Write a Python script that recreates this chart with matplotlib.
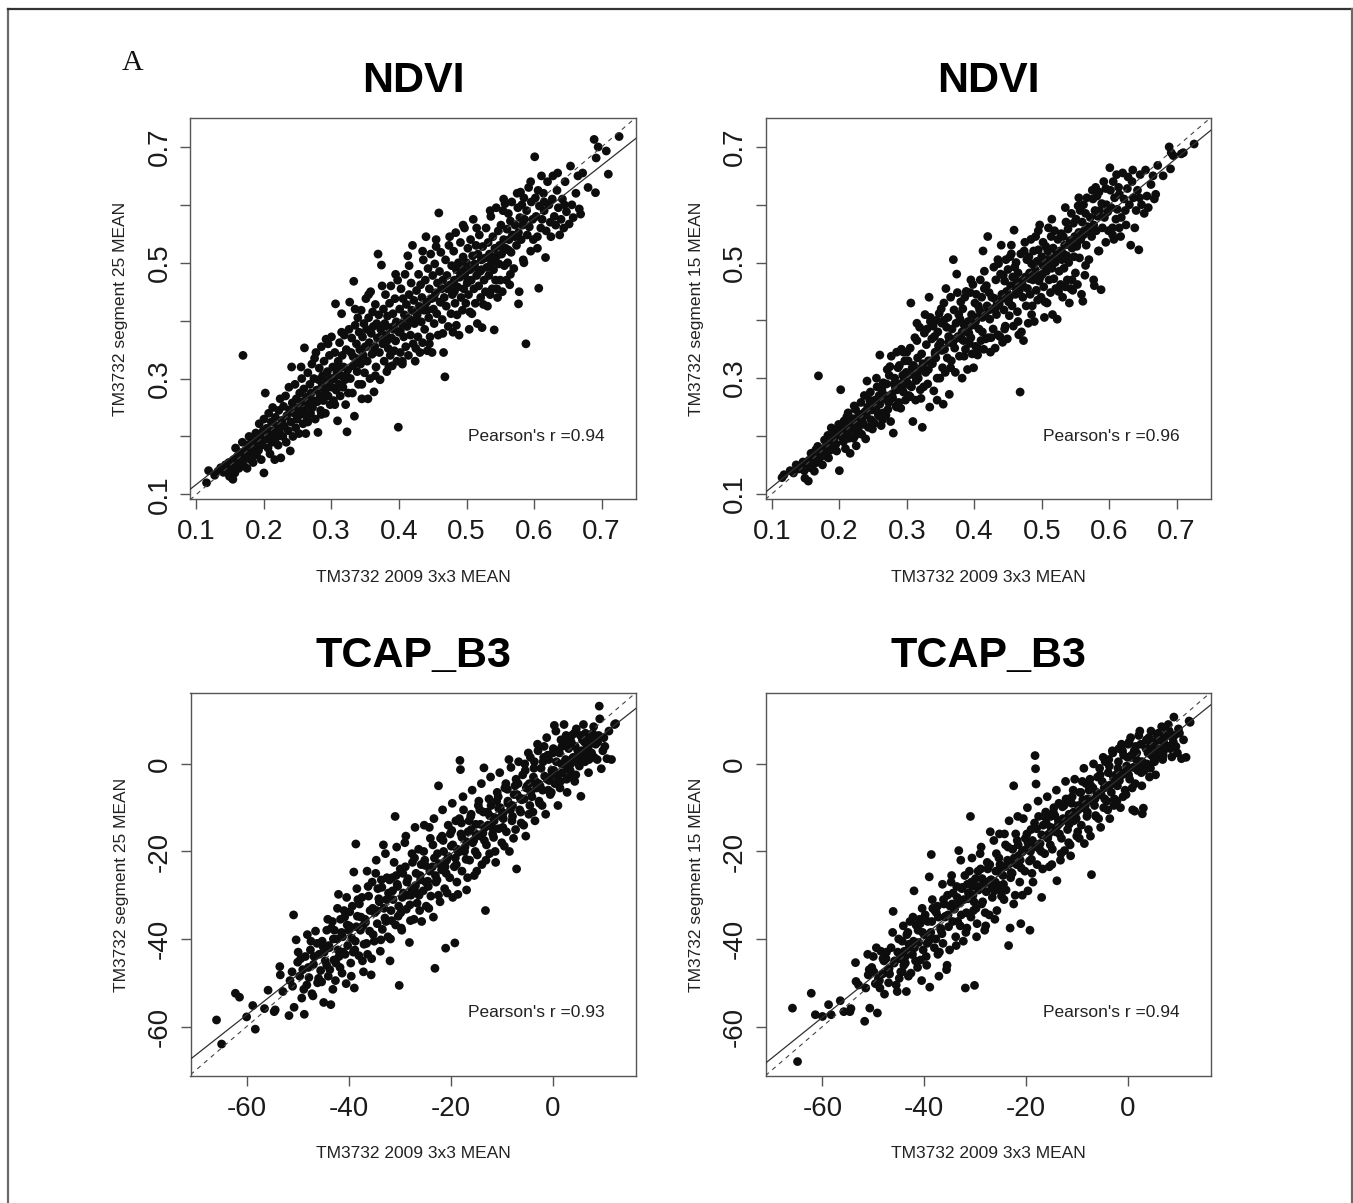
import matplotlib
matplotlib.use("Agg")
import matplotlib.pyplot as plt
from matplotlib.lines import Line2D
import numpy as np

plt.rcParams['font.family'] = ['Liberation Sans', 'DejaVu Sans']

# ---------------- data ----------------
# NDVI: x = TM3732 2009 3x3 MEAN (shared by both NDVI panels)
ndvi_x = [
    0.115, 0.118, 0.127, 0.132, 0.136, 0.140, 0.143, 0.146, 0.148, 0.149,
    0.152, 0.154, 0.155, 0.157, 0.158, 0.160, 0.161, 0.163, 0.165, 0.166, 0.168, 0.169, 0.170, 0.172, 0.173, 0.175,
    0.177, 0.178, 0.180, 0.181, 0.183, 0.184, 0.186, 0.188, 0.189, 0.190, 0.192, 0.193, 0.195, 0.196, 0.197, 0.199, 0.200, 0.200,
    0.202, 0.203, 0.204, 0.206, 0.207, 0.208, 0.209, 0.211, 0.212, 0.213, 0.214, 0.216, 0.217, 0.218, 0.220, 0.221, 0.222, 0.223, 0.224, 0.225,
    0.227, 0.228, 0.229, 0.230, 0.232, 0.233, 0.234, 0.236, 0.237, 0.238, 0.239, 0.240, 0.241, 0.242, 0.243, 0.245, 0.246, 0.247, 0.248, 0.249,
    0.251, 0.252, 0.253, 0.254, 0.256, 0.257, 0.258, 0.259, 0.260, 0.260, 0.262, 0.263, 0.264, 0.265, 0.266, 0.268, 0.269, 0.270, 0.271, 0.272, 0.273, 0.274,
    0.276, 0.277, 0.278, 0.279, 0.280, 0.281, 0.282, 0.283, 0.284, 0.285, 0.286, 0.287, 0.288, 0.289, 0.290, 0.291, 0.292, 0.293, 0.294, 0.295, 0.296, 0.297, 0.298, 0.299,
    0.300, 0.301, 0.302, 0.303, 0.304, 0.305, 0.306, 0.307, 0.308, 0.309, 0.310, 0.311, 0.312, 0.313, 0.314, 0.315, 0.316, 0.317, 0.318, 0.319, 0.320, 0.321, 0.322, 0.323, 0.324,
    0.326, 0.327, 0.328, 0.329, 0.330, 0.331, 0.332, 0.333, 0.334, 0.335, 0.336, 0.337, 0.338, 0.339, 0.340, 0.341, 0.342, 0.343, 0.344, 0.345, 0.346, 0.347, 0.348, 0.349,
    0.350, 0.351, 0.352, 0.353, 0.354, 0.355, 0.356, 0.357, 0.358, 0.359, 0.360, 0.361, 0.362, 0.363, 0.364, 0.365, 0.366, 0.367, 0.368, 0.369, 0.370, 0.371, 0.372, 0.373, 0.374,
    0.376, 0.377, 0.378, 0.379, 0.380, 0.381, 0.382, 0.383, 0.384, 0.385, 0.386, 0.387, 0.388, 0.389, 0.390, 0.391, 0.392, 0.393, 0.394, 0.395, 0.396, 0.397, 0.398, 0.399, 0.400,
    0.401, 0.402, 0.403, 0.404, 0.405, 0.406, 0.407, 0.408, 0.409, 0.410, 0.411, 0.412, 0.413, 0.414, 0.415, 0.416, 0.417, 0.418, 0.419, 0.420, 0.421, 0.422, 0.423, 0.424,
    0.426, 0.427, 0.428, 0.429, 0.430, 0.431, 0.432, 0.433, 0.434, 0.435, 0.436, 0.437, 0.438, 0.439, 0.440, 0.441, 0.442, 0.443, 0.444, 0.445, 0.446, 0.447, 0.448, 0.449,
    0.450, 0.451, 0.452, 0.453, 0.454, 0.455, 0.456, 0.457, 0.458, 0.459, 0.460, 0.461, 0.462, 0.463, 0.464, 0.465, 0.466, 0.467, 0.468, 0.469, 0.470, 0.471, 0.472, 0.473, 0.474,
    0.476, 0.477, 0.478, 0.479, 0.480, 0.481, 0.482, 0.483, 0.484, 0.485, 0.486, 0.487, 0.488, 0.489, 0.490, 0.491, 0.492, 0.493, 0.494, 0.495, 0.496, 0.497, 0.498, 0.499,
    0.500, 0.501, 0.502, 0.503, 0.504, 0.505, 0.506, 0.507, 0.508, 0.509, 0.510, 0.511, 0.512, 0.513, 0.514, 0.515, 0.516, 0.517, 0.518, 0.519, 0.520, 0.521, 0.522, 0.523, 0.524,
    0.526, 0.527, 0.528, 0.529, 0.530, 0.531, 0.532, 0.533, 0.534, 0.535, 0.536, 0.537, 0.538, 0.539, 0.540, 0.541, 0.542, 0.543, 0.544, 0.545, 0.546, 0.547, 0.548, 0.549,
    0.550, 0.551, 0.552, 0.553, 0.554, 0.555, 0.556, 0.557, 0.558, 0.559, 0.560, 0.561, 0.562, 0.563, 0.564, 0.565, 0.566, 0.567, 0.568, 0.570, 0.572, 0.574,
    0.576, 0.577, 0.578, 0.579, 0.580, 0.581, 0.582, 0.583, 0.584, 0.585, 0.586, 0.588, 0.589, 0.590, 0.592, 0.593, 0.595, 0.596, 0.598, 0.599, 0.577,
    0.601, 0.602, 0.603, 0.605, 0.606, 0.607, 0.608, 0.610, 0.611, 0.612, 0.614, 0.615, 0.617, 0.618, 0.620, 0.622, 0.624,
    0.627, 0.628, 0.630, 0.632, 0.634, 0.636, 0.638, 0.640, 0.642, 0.644, 0.646, 0.648,
    0.652, 0.654, 0.656, 0.658, 0.662, 0.665, 0.667, 0.669, 0.672, 0.680, 0.689, 0.691, 0.692, 0.695, 0.707, 0.710, 0.726,
    0.255, 0.265, 0.275, 0.285, 0.295, 0.305, 0.315, 0.325, 0.335, 0.345, 0.355, 0.365, 0.375, 0.385, 0.395, 0.405, 0.415, 0.425, 0.435, 0.445,
    0.455, 0.465, 0.475, 0.485, 0.495, 0.505, 0.515, 0.525, 0.535, 0.545, 0.555, 0.565, 0.575, 0.585, 0.595, 0.605, 0.615, 0.625, 0.635, 0.645,
    0.302, 0.312, 0.322, 0.332, 0.342, 0.352, 0.362, 0.372, 0.382, 0.392, 0.402, 0.412, 0.422, 0.432,
    0.442, 0.452, 0.462, 0.472, 0.482, 0.492, 0.502, 0.512, 0.522, 0.532, 0.542, 0.552, 0.562, 0.572,
]
# NDVI: TM3732 segment 25 MEAN
ndvi_seg25 = [
    0.120, 0.141, 0.133, 0.140, 0.146, 0.138, 0.151, 0.143, 0.155, 0.131,
    0.147, 0.126, 0.160, 0.137, 0.180, 0.152, 0.166, 0.145, 0.172, 0.158, 0.190, 0.340, 0.150, 0.175, 0.163, 0.145,
    0.186, 0.200, 0.160, 0.172, 0.194, 0.155, 0.180, 0.206, 0.168, 0.190, 0.176, 0.222, 0.198, 0.160, 0.185, 0.210, 0.137, 0.230,
    0.275, 0.195, 0.214, 0.180, 0.240, 0.203, 0.170, 0.225, 0.190, 0.250, 0.210, 0.160, 0.233, 0.198, 0.218, 0.185, 0.245, 0.208, 0.265, 0.163,
    0.228, 0.200, 0.252, 0.218, 0.270, 0.190, 0.236, 0.210, 0.285, 0.246, 0.175, 0.225, 0.320, 0.258, 0.200, 0.240, 0.290, 0.215, 0.265, 0.230,
    0.250, 0.205, 0.275, 0.238, 0.300, 0.260, 0.222, 0.282, 0.353, 0.245, 0.205, 0.268, 0.232, 0.310, 0.255, 0.290, 0.240, 0.275, 0.325, 0.250, 0.262, 0.300,
    0.230, 0.345, 0.280, 0.260, 0.207, 0.298, 0.318, 0.270, 0.245, 0.355, 0.288, 0.305, 0.262, 0.330, 0.278, 0.240, 0.368, 0.295, 0.312, 0.270, 0.285, 0.340, 0.255, 0.300,
    0.372, 0.285, 0.320, 0.262, 0.300, 0.345, 0.429, 0.280, 0.310, 0.227, 0.330, 0.290, 0.362, 0.270, 0.305, 0.412, 0.340, 0.285, 0.320, 0.375, 0.298, 0.255, 0.350, 0.208, 0.315,
    0.385, 0.432, 0.300, 0.345, 0.370, 0.275, 0.322, 0.468, 0.235, 0.392, 0.335, 0.360, 0.312, 0.405, 0.290, 0.380, 0.350, 0.325, 0.418, 0.265, 0.372, 0.340, 0.395, 0.310,
    0.355, 0.438, 0.385, 0.330, 0.265, 0.405, 0.362, 0.300, 0.450, 0.378, 0.342, 0.415, 0.390, 0.277, 0.355, 0.428, 0.320, 0.395, 0.370, 0.515, 0.410, 0.345, 0.298, 0.385, 0.496,
    0.360, 0.420, 0.330, 0.395, 0.445, 0.375, 0.312, 0.408, 0.352, 0.388, 0.430, 0.340, 0.460, 0.370, 0.322, 0.412, 0.385, 0.348, 0.438, 0.365, 0.398, 0.330, 0.470, 0.216, 0.380,
    0.420, 0.345, 0.455, 0.395, 0.325, 0.438, 0.372, 0.410, 0.480, 0.355, 0.428, 0.390, 0.512, 0.340, 0.445, 0.402, 0.375, 0.465, 0.418, 0.530, 0.360, 0.435, 0.395, 0.330,
    0.452, 0.410, 0.372, 0.480, 0.425, 0.345, 0.462, 0.398, 0.440, 0.362, 0.505, 0.418, 0.385, 0.470, 0.545, 0.432, 0.348, 0.490, 0.405, 0.455, 0.372, 0.515, 0.438, 0.345,
    0.478, 0.420, 0.395, 0.498, 0.448, 0.540, 0.412, 0.465, 0.375, 0.586, 0.485, 0.432, 0.518, 0.455, 0.402, 0.470, 0.345, 0.440, 0.303, 0.505, 0.425, 0.478, 0.455, 0.390, 0.530,
    0.462, 0.412, 0.495, 0.445, 0.380, 0.520, 0.470, 0.430, 0.552, 0.488, 0.410, 0.458, 0.500, 0.375, 0.475, 0.535, 0.440, 0.492, 0.418, 0.510, 0.455, 0.560, 0.482, 0.430,
    0.500, 0.465, 0.525, 0.445, 0.385, 0.488, 0.540, 0.470, 0.412, 0.512, 0.575, 0.455, 0.498, 0.430, 0.530, 0.478, 0.395, 0.515, 0.460, 0.548, 0.485, 0.440, 0.505, 0.388, 0.528,
    0.470, 0.508, 0.450, 0.560, 0.492, 0.425, 0.535, 0.478, 0.515, 0.445, 0.580, 0.500, 0.455, 0.545, 0.488, 0.384, 0.525, 0.470, 0.595, 0.512, 0.440, 0.555, 0.498, 0.530,
    0.470, 0.565, 0.515, 0.450, 0.590, 0.540, 0.495, 0.602, 0.525, 0.470, 0.558, 0.500, 0.585, 0.540, 0.462, 0.572, 0.518, 0.605, 0.548, 0.490, 0.565, 0.530,
    0.595, 0.552, 0.450, 0.578, 0.622, 0.540, 0.600, 0.565, 0.505, 0.612, 0.575, 0.360, 0.590, 0.548, 0.630, 0.562, 0.520, 0.605, 0.575, 0.540, 0.429,
    0.683, 0.612, 0.580, 0.545, 0.625, 0.456, 0.598, 0.560, 0.650, 0.575, 0.620, 0.590, 0.509, 0.555, 0.640, 0.600, 0.570,
    0.610, 0.650, 0.580, 0.565, 0.625, 0.595, 0.548, 0.575, 0.610, 0.560, 0.640, 0.588,
    0.567, 0.667, 0.600, 0.578, 0.620, 0.650, 0.593, 0.584, 0.655, 0.630, 0.713, 0.621, 0.681, 0.700, 0.693, 0.653, 0.718,
    0.320, 0.225, 0.335, 0.238, 0.360, 0.255, 0.380, 0.275, 0.420, 0.290, 0.445, 0.305, 0.460, 0.320, 0.480, 0.330, 0.495, 0.352, 0.520, 0.360,
    0.528, 0.378, 0.545, 0.392, 0.565, 0.415, 0.560, 0.428, 0.590, 0.455, 0.610, 0.480, 0.620, 0.500, 0.640, 0.525, 0.605, 0.545, 0.655, 0.600,
    0.300, 0.318, 0.305, 0.338, 0.328, 0.355, 0.345, 0.372, 0.365, 0.390, 0.382, 0.405, 0.400, 0.420,
    0.418, 0.440, 0.432, 0.458, 0.450, 0.478, 0.470, 0.492, 0.488, 0.510, 0.505, 0.528, 0.522, 0.545,
]
# NDVI: TM3732 segment 15 MEAN
ndvi_seg15 = [
    0.128, 0.133, 0.140, 0.136, 0.150, 0.143, 0.146, 0.155, 0.140, 0.127,
    0.152, 0.122, 0.158, 0.145, 0.170, 0.149, 0.163, 0.139, 0.176, 0.154, 0.182, 0.304, 0.160, 0.168, 0.171, 0.150,
    0.178, 0.193, 0.165, 0.184, 0.201, 0.162, 0.175, 0.214, 0.190, 0.183, 0.196, 0.208, 0.186, 0.174, 0.202, 0.220, 0.140, 0.212,
    0.280, 0.205, 0.198, 0.190, 0.226, 0.215, 0.178, 0.233, 0.207, 0.240, 0.196, 0.170, 0.220, 0.212, 0.230, 0.196, 0.252, 0.200, 0.246, 0.183,
    0.218, 0.210, 0.238, 0.232, 0.258, 0.203, 0.225, 0.220, 0.270, 0.242, 0.195, 0.236, 0.295, 0.250, 0.215, 0.262, 0.276, 0.228, 0.245, 0.212,
    0.260, 0.222, 0.262, 0.248, 0.285, 0.240, 0.235, 0.270, 0.340, 0.255, 0.218, 0.280, 0.228, 0.292, 0.265, 0.270, 0.236, 0.290, 0.315, 0.246, 0.258, 0.305,
    0.225, 0.338, 0.272, 0.266, 0.205, 0.290, 0.300, 0.284, 0.252, 0.345, 0.280, 0.318, 0.258, 0.322, 0.290, 0.248, 0.350, 0.282, 0.305, 0.276, 0.298, 0.330, 0.262, 0.310,
    0.345, 0.292, 0.330, 0.270, 0.288, 0.352, 0.430, 0.285, 0.318, 0.225, 0.322, 0.305, 0.370, 0.262, 0.296, 0.395, 0.335, 0.300, 0.312, 0.388, 0.280, 0.265, 0.342, 0.215, 0.325,
    0.378, 0.410, 0.310, 0.358, 0.385, 0.290, 0.315, 0.440, 0.250, 0.398, 0.330, 0.368, 0.325, 0.390, 0.278, 0.372, 0.345, 0.335, 0.400, 0.262, 0.380, 0.356, 0.412, 0.300,
    0.362, 0.420, 0.395, 0.318, 0.255, 0.400, 0.350, 0.310, 0.455, 0.388, 0.335, 0.405, 0.372, 0.272, 0.368, 0.440, 0.330, 0.385, 0.360, 0.505, 0.418, 0.352, 0.310, 0.395, 0.480,
    0.372, 0.410, 0.338, 0.402, 0.432, 0.368, 0.300, 0.420, 0.365, 0.392, 0.440, 0.350, 0.450, 0.380, 0.315, 0.398, 0.378, 0.360, 0.448, 0.370, 0.410, 0.342, 0.462, 0.318, 0.392,
    0.430, 0.355, 0.445, 0.405, 0.340, 0.425, 0.385, 0.418, 0.470, 0.365, 0.440, 0.380, 0.520, 0.350, 0.455, 0.412, 0.368, 0.460, 0.425, 0.545, 0.370, 0.448, 0.402, 0.345,
    0.440, 0.420, 0.385, 0.492, 0.438, 0.352, 0.470, 0.410, 0.430, 0.375, 0.498, 0.428, 0.372, 0.480, 0.530, 0.445, 0.362, 0.478, 0.418, 0.468, 0.390, 0.505, 0.450, 0.368,
    0.488, 0.432, 0.408, 0.510, 0.460, 0.530, 0.425, 0.475, 0.390, 0.556, 0.492, 0.445, 0.500, 0.468, 0.415, 0.482, 0.375, 0.452, 0.276, 0.515, 0.380, 0.468, 0.440, 0.365, 0.520,
    0.475, 0.425, 0.505, 0.455, 0.395, 0.510, 0.482, 0.445, 0.540, 0.498, 0.425, 0.470, 0.520, 0.398, 0.488, 0.545, 0.452, 0.502, 0.435, 0.522, 0.468, 0.565, 0.475, 0.440,
    0.510, 0.480, 0.535, 0.458, 0.405, 0.498, 0.528, 0.485, 0.430, 0.520, 0.560, 0.470, 0.508, 0.448, 0.545, 0.490, 0.410, 0.525, 0.472, 0.555, 0.500, 0.455, 0.518, 0.402, 0.540,
    0.485, 0.520, 0.462, 0.550, 0.505, 0.440, 0.545, 0.490, 0.530, 0.458, 0.570, 0.512, 0.470, 0.558, 0.500, 0.430, 0.538, 0.455, 0.585, 0.525, 0.452, 0.568, 0.510, 0.545,
    0.482, 0.575, 0.528, 0.462, 0.598, 0.552, 0.508, 0.590, 0.540, 0.445, 0.570, 0.433, 0.600, 0.555, 0.478, 0.585, 0.530, 0.612, 0.562, 0.505, 0.578, 0.545,
    0.610, 0.565, 0.460, 0.590, 0.630, 0.555, 0.615, 0.580, 0.520, 0.622, 0.590, 0.453, 0.602, 0.560, 0.640, 0.578, 0.535, 0.600, 0.588, 0.555, 0.470,
    0.664, 0.625, 0.595, 0.560, 0.640, 0.540, 0.612, 0.575, 0.652, 0.592, 0.630, 0.560, 0.545, 0.578, 0.655, 0.610, 0.590,
    0.628, 0.648, 0.600, 0.530, 0.640, 0.612, 0.560, 0.590, 0.625, 0.522, 0.652, 0.600,
    0.585, 0.660, 0.615, 0.595, 0.635, 0.650, 0.610, 0.618, 0.668, 0.650, 0.700, 0.662, 0.690, 0.685, 0.688, 0.690, 0.705,
    0.300, 0.240, 0.320, 0.250, 0.345, 0.268, 0.365, 0.285, 0.405, 0.300, 0.430, 0.318, 0.448, 0.338, 0.470, 0.352, 0.485, 0.370, 0.505, 0.385,
    0.515, 0.398, 0.535, 0.410, 0.555, 0.432, 0.575, 0.450, 0.595, 0.470, 0.612, 0.495, 0.625, 0.520, 0.628, 0.548, 0.618, 0.565, 0.660, 0.612,
    0.305, 0.310, 0.318, 0.330, 0.342, 0.348, 0.362, 0.368, 0.380, 0.388, 0.398, 0.405, 0.418, 0.422,
    0.438, 0.440, 0.455, 0.460, 0.472, 0.478, 0.495, 0.498, 0.512, 0.515, 0.530, 0.532, 0.548, 0.552,
]

# TCAP_B3: x = TM3732 2009 3x3 MEAN (shared by both TCAP panels)
tcap_x = [
    -65.9, -64.9, -62.2, -61.4, -60.0, -58.8, -58.3, -56.5, -55.8, -54.6, -54.4,
    -53.5, -53.4, -52.9, -51.7, -51.5, -51.0, -50.8, -50.7, -50.3, -50.0, -49.6, -49.2, -49.0, -48.7, -48.5, -48.2, -47.8, -47.5, -47.2, -46.9, -46.5, -46.1, -45.8, -45.5, -45.2, -44.9, -44.6, -44.3, -44.0,
    -43.8, -43.5, -43.2, -42.9, -42.6, -42.3, -42.0, -41.7, -41.4, -41.1, -40.8, -40.5, -40.2, -39.9, -39.6, -39.3, -39.0, -38.9, -38.7, -38.6, -38.3, -38.0, -37.7, -37.4, -37.1, -36.8, -36.5, -36.2, -35.9, -35.6,
    -35.3, -35.0, -34.7, -34.4, -34.1, -33.8, -33.5, -33.2, -32.9, -32.6, -32.3, -32.0, -31.9, -31.7, -31.4, -31.1, -30.9, -30.8, -30.5, -30.2, -30.1, -29.9, -29.6, -29.3, -29.0, -28.7, -28.4, -28.1, -27.8, -27.5,
    -27.2, -26.9, -26.6, -26.3, -26.0, -25.7, -25.4, -25.1, -24.8, -24.5, -24.2, -23.9, -23.6, -23.4, -23.1, -22.9, -22.6, -22.4, -22.1, -21.8, -21.5, -21.2, -21.0, -20.8, -20.5, -20.2, -19.9, -19.6, -19.3, -19.2,
    -19.0, -18.8, -18.5, -18.2, -18.1, -18.0, -17.8, -17.5, -17.2, -16.9, -16.6, -16.3, -16.0, -15.7, -15.4, -15.1, -14.8, -14.5, -14.2, -13.9, -13.6, -13.5, -13.2, -13.0, -12.7, -12.4, -12.1, -11.8, -11.5, -11.2,
    -10.9, -10.6, -10.3, -10.0, -9.7, -9.4, -9.1, -8.8, -8.5, -8.2, -7.9, -7.6, -7.3, -7.1, -6.8, -6.5, -6.2, -5.9, -5.6, -5.3, -5.0, -4.7, -4.4, -4.1, -3.8, -3.5, -3.2, -2.9, -2.6, -2.3,
    -2.0, -1.7, -1.4, -1.1, -0.8, -0.5, -0.2, 0.1, 0.3, 0.4, 0.7, 1.0, 1.3, 1.4, 1.6, 1.9, 2.2, 2.5, 2.8, 2.9, 3.1, 3.4, 3.7, 4.0, 4.3, 4.6, 4.9, 5.2, 5.5, 5.8, 6.1, 6.4, 6.7, 7.0, 7.3, 7.6, 8.0, 8.4, 8.7, 9.1, 9.2, 9.5, 10.0, 10.6, 11.0, 12.1, 12.3,
    -44.8, -43.9, -43.0, -42.1, -41.2, -40.3, -39.4, -38.5, -37.6, -36.7, -35.8, -34.9, -34.0, -33.1, -32.2, -31.3, -30.4, -29.5, -28.6, -27.7, -26.8, -25.9, -25.0, -24.1, -23.2, -22.3, -21.4, -20.5, -19.6, -18.7, -17.8, -16.9, -16.0, -15.1, -14.2, -13.3, -12.4, -11.5, -10.6, -9.7, -8.8, -7.9, -7.0, -6.1, -5.2, -4.3, -3.4, -2.5, -1.6, -0.7, 0.2, 1.1, 2.0, 2.9, 3.8, 4.7, 5.6, 6.5,
    -44.3, -43.4, -42.5, -41.6, -40.7, -39.8, -38.8, -37.9, -37.0, -36.1, -35.2, -34.3, -33.4, -32.5, -31.6, -30.7, -29.8, -28.9, -28.0, -27.1, -26.2, -25.3, -24.4, -23.5, -22.7, -21.7, -20.9, -19.8, -18.9, -17.9, -17.0, -16.1, -15.2, -14.3, -13.4, -12.5, -11.6, -10.7, -9.8, -8.9, -8.0, -7.2, -6.3, -5.4, -4.5, -3.6, -2.7, -1.8, -0.9, 0.0, 0.9, 1.8, 2.7, 3.6, 4.5, 5.4, 6.3, 7.2, 8.1, 9.0, 10.2, -45.9, -46.8, -47.9, -48.8, -49.9, -51.1,
    -49.4, -48.1, -47.0, -46.2, -45.3, -44.1, -43.1, -42.2, -41.3, -40.4, -39.5, -38.4, -37.3, -36.4, -35.5, -34.6, -33.7, -32.8, -31.8, -30.6, -29.7, -28.8, -27.9, -27.0, -26.1, -25.2, -24.3, -23.3, -22.4, -21.6, -20.7, -19.7,
    -18.6, -17.6, -16.7, -15.8, -14.9, -14.0, -13.1, -12.2, -11.3, -10.4, -9.5, -8.6, -7.7, -6.7, -5.7, -4.8, -3.9, -3.0, -2.1, -1.2, -0.3, 0.6, 1.5, 2.4, 3.3, 4.2, 5.1, 6.0, 6.9, 7.8, 8.8, 11.5,
    -47.4, -45.0, -43.7, -42.8, -41.9, -40.9, -40.0, -39.1, -38.2, -37.2, -36.3, -35.4, -34.5, -33.6, -32.7, -31.5, -30.3, -29.4, -28.5, -27.6, -26.7, -25.8, -24.9, -24.0, -23.0, -22.0, -21.1, -20.1, -19.1, -18.3,
    -17.3, -16.4, -15.5, -14.6, -13.7, -12.8, -11.9, -11.0, -10.1, -9.2, -8.3, -7.4, -6.4, -5.5, -4.6, -3.7, -2.8, -1.9, -1.0, -0.1, 0.8, 1.7, 2.6, 3.5, 4.4, 5.3, 6.2, 7.1, 8.2, 9.8,
]
# TCAP_B3: TM3732 segment 25 MEAN
tcap_seg25 = [
    -58.5, -64.0, -52.4, -53.3, -57.8, -55.2, -60.6, -55.9, -51.7, -56.6, -56.2,
    -46.3, -48.2, -52.0, -57.5, -49.5, -50.8, -34.5, -55.6, -40.2, -45.3, -48.5, -53.5, -47.0, -57.2, -44.0, -50.5, -48.8, -42.5, -52.5, -45.8, -38.2, -50.0, -43.5, -47.2, -40.5, -54.5, -45.0, -38.0, -48.5,
    -42.0, -55.0, -36.0, -44.8, -49.5, -40.0, -29.8, -46.5, -38.5, -43.0, -35.0, -50.2, -41.5, -37.0, -45.5, -32.5, -24.7, -51.2, -40.5, -18.3, -34.8, -43.8, -38.0, -30.5, -47.5, -35.5, -41.0, -28.0, -38.2, -48.2,
    -33.0, -40.5, -25.0, -36.5, -30.8, -42.8, -28.2, -18.5, -35.2, -31.0, -39.5, -26.5, -45.0, -33.5, -29.0, -22.5, -12.0, -36.8, -27.5, -32.5, -50.6, -24.0, -38.0, -29.5, -18.0, -33.2, -26.2, -40.8, -30.0, -22.5,
    -35.5, -27.8, -31.8, -19.5, -25.5, -36.0, -29.0, -22.0, -32.5, -26.8, -14.5, -30.2, -23.5, -35.0, -46.7, -27.0, -20.5, -5.0, -31.5, -24.2, -17.5, -28.5, -42.1, -22.0, -14.0, -26.0, -18.8, -30.5, -23.5, -40.9,
    -13.0, -27.0, -20.2, 0.8, -1.3, -16.0, -24.5, -10.5, -19.0, -28.8, -15.5, -22.0, -11.5, -18.0, -25.5, -13.8, -20.8, -8.5, -16.5, -23.0, -11.0, -0.9, -33.5, -18.5, -14.0, -20.5, -9.5, -16.0, -12.2, -22.5,
    -6.5, -14.8, -10.0, -18.0, -12.5, -5.5, -15.5, -9.0, -20.0, -0.8, -12.0, -7.0, -15.0, -24.0, -4.5, -10.5, -13.5, -2.5, -8.0, -16.5, -5.0, -11.5, 1.5, -7.5, -3.0, -13.0, -5.5, 3.0, -9.0, -1.0,
    -6.0, 4.0, -11.5, -3.5, 1.0, -7.0, -1.5, 3.5, 8.8, -4.5, 0.5, -9.5, 2.5, -5.5, 5.5, -2.0, 9.0, 1.0, -6.5, 4.0, 3.5, -1.5, 6.5, 1.5, -4.0, 8.0, 3.0, -0.5, -7.4, 5.5, 2.0, 7.0, 4.0, -2.0, 6.0, 2.5, 8.5, 4.5, 1.0, 13.2, 10.3, -1.1, 6.0, 1.2, 7.5, 9.0, 9.2,
    -43.0, -41.5, -40.0, -42.5, -39.5, -36.8, -39.8, -37.2, -35.0, -36.2, -33.5, -34.0, -31.5, -33.0, -29.5, -31.0, -28.0, -30.5, -27.0, -28.5, -25.0, -26.5, -23.2, -24.5, -21.5, -22.8, -20.0, -21.2, -18.5, -19.5, -16.8, -17.8, -15.0, -16.0, -13.8, -14.5, -11.8, -13.0, -10.2, -11.2, -8.5, -9.5, -7.0, -8.2, -5.5, -6.5, -4.0, -5.0, -2.8, -3.8, -1.5, -2.5, 0.0, -1.0, 1.2, 0.5, 3.0, 2.0,
    -46.0, -37.5, -45.5, -35.5, -43.5, -33.8, -42.5, -32.0, -41.2, -30.2, -39.0, -28.5, -37.8, -26.0, -35.8, -25.5, -34.0, -23.5, -32.2, -21.5, -30.0, -20.0, -28.0, -18.5, -26.5, -16.5, -25.0, -15.2, -23.0, -13.5, -21.8, -12.0, -20.0, -10.5, -17.5, -8.0, -16.8, -7.5, -14.5, -5.8, -13.0, -3.5, -11.0, -1.5, -9.5, 0.5, -8.5, 1.5, -6.0, 2.5, -4.0, 4.0, -3.5, 5.0, -2.5, 6.5, 0.5, 4.5, 1.5, 6.5, 4.0, -49.0, -44.0, -46.5, -51.5, -43.0, -47.5,
    -44.5, -39.0, -53.0, -41.0, -49.8, -35.5, -51.5, -33.0, -47.8, -30.5, -48.5, -28.5, -45.0, -24.5, -44.5, -22.0, -40.2, -20.5, -40.0, -19.0, -37.5, -16.5, -35.8, -14.5, -33.5, -14.0, -33.0, -12.5, -30.0, -10.5, -29.5, -9.0,
    -29.8, -7.5, -26.0, -6.0, -24.5, -4.5, -22.0, -3.0, -20.0, -2.0, -18.8, 1.0, -17.0, 0.5, -14.0, 2.5, -11.0, 4.5, -9.5, 6.0, -6.5, 7.5, -4.0, 5.5, -3.0, 7.0, 1.0, 9.0, 3.5, 7.0, 5.0, 1.0,
    -40.5, -41.8, -47.0, -38.0, -44.0, -33.5, -38.0, -43.0, -31.0, -37.0, -43.5, -27.0, -33.5, -26.5, -36.0, -26.0, -34.8, -25.0, -30.0, -20.5, -29.5, -23.0, -27.0, -17.0, -25.5, -17.0, -23.5, -16.0, -21.5, -12.5,
    -20.0, -13.0, -17.5, -9.5, -15.8, -11.0, -14.5, -8.5, -12.0, -4.5, -10.5, -5.0, -7.8, 0.0, -4.5, -1.0, -4.5, 0.5, 2.0, -2.5, 3.0, 0.0, 6.5, 0.0, 4.0, 2.0, 5.0, 1.0, 6.0, 3.0,
]
# TCAP_B3: TM3732 segment 15 MEAN
tcap_seg15 = [
    -55.8, -68.0, -52.4, -57.3, -57.7, -55.0, -57.3, -54.1, -56.6, -56.6, -55.9,
    -45.4, -49.7, -50.5, -58.8, -51.2, -48.2, -47.0, -55.8, -46.5, -44.0, -50.2, -56.9, -49.0, -51.2, -42.8, -48.0, -52.6, -44.5, -47.2, -46.8, -42.0, -33.7, -45.0, -50.5, -43.0, -49.0, -47.5, -40.5, -46.0,
    -44.2, -52.0, -38.5, -42.0, -47.8, -43.5, -29.0, -45.0, -37.0, -40.8, -36.5, -49.5, -42.5, -35.5, -44.0, -36.0, -25.8, -51.0, -38.5, -20.7, -33.0, -42.0, -40.0, -32.5, -48.5, -37.5, -38.8, -31.0, -35.0, -47.0,
    -34.5, -42.5, -27.0, -36.0, -33.2, -39.5, -30.5, -19.8, -37.0, -28.5, -40.5, -25.5, -51.2, -34.0, -30.8, -24.5, -12.0, -35.0, -28.0, -31.5, -50.6, -26.2, -36.5, -28.8, -20.5, -32.0, -27.5, -38.0, -29.2, -24.0,
    -34.5, -26.5, -30.5, -17.5, -27.0, -33.5, -27.8, -23.0, -30.2, -25.5, -16.0, -28.8, -22.0, -41.5, -37.5, -24.8, -19.5, -5.0, -30.0, -23.0, -18.5, -27.0, -36.5, -20.2, -12.5, -24.5, -19.5, -29.0, -22.2, -38.0,
    -15.0, -25.0, -19.0, 1.9, -1.1, -4.6, -23.0, -12.0, -18.2, -30.5, -14.0, -20.5, -13.5, -17.0, -23.5, -12.0, -19.5, -10.0, -15.5, -26.7, -13.0, -9.0, -22.0, -17.0, -12.5, -19.8, -8.0, -15.0, -13.8, -21.0,
    -7.5, -13.0, -11.5, -16.5, -10.5, -6.5, -14.0, -8.2, -18.2, -4.5, -11.0, -6.0, -16.5, -25.3, -5.5, -9.5, -12.0, -3.0, -7.0, -14.5, -4.0, -10.0, 0.5, -8.5, -2.0, -12.5, -6.5, 2.5, -8.0, -2.5,
    -5.0, 3.5, -10.0, -2.5, 2.0, -6.0, -0.5, 4.5, 5.0, -3.5, 1.5, -10.5, 3.0, -10.8, 4.0, -1.0, 6.5, 0.5, -5.0, -11.4, -10.1, -0.5, 5.5, 2.5, -3.0, 7.5, 4.0, 1.0, -2.5, 6.5, 3.0, 5.5, 8.5, 2.0, 4.5, 7.0, 9.0, 3.5, 1.6, 10.7, 6.5, 4.0, 8.0, 1.2, 5.5, 9.8, 9.5,
    -44.5, -42.8, -41.2, -40.5, -38.0, -38.5, -41.0, -36.0, -34.0, -38.0, -34.8, -32.5, -33.0, -31.8, -31.0, -29.5, -30.0, -28.0, -26.2, -27.0, -26.5, -24.5, -24.8, -23.5, -22.8, -21.5, -21.0, -19.8, -18.0, -17.5, -18.5, -16.2, -16.5, -14.5, -15.0, -13.5, -12.8, -11.5, -11.0, -9.5, -10.0, -8.0, -8.5, -6.5, -7.0, -5.0, -4.8, -3.5, -3.8, -2.0, -2.5, -0.8, -1.5, 0.5, 0.0, 2.0, 1.5, 3.5,
    -47.5, -39.0, -43.5, -36.8, -44.8, -34.5, -40.0, -33.5, -43.0, -32.0, -37.2, -29.5, -36.0, -28.2, -37.5, -27.0, -33.0, -24.0, -34.0, -23.0, -29.0, -21.5, -27.5, -19.0, -25.0, -17.5, -23.8, -16.0, -21.8, -14.8, -20.0, -11.0, -18.5, -11.8, -16.0, -9.5, -18.0, -6.0, -15.5, -4.0, -12.0, -5.0, -11.8, -2.5, -8.0, -0.5, -9.5, 0.5, -7.5, 1.5, -5.5, 2.5, -2.0, 3.5, -1.0, 5.0, 2.0, 6.0, 4.0, 5.0, 7.0, -45.5, -48.0, -45.0, -49.5, -47.5, -43.5,
    -42.0, -44.5, -50.0, -38.5, -52.0, -37.0, -48.5, -35.0, -46.5, -33.0, -46.0, -31.0, -43.5, -27.5, -46.0, -25.5, -41.5, -22.0, -38.5, -21.5, -39.5, -19.0, -37.0, -15.5, -35.5, -16.0, -31.0, -13.0, -32.0, -12.0, -30.0, -10.0,
    -27.0, -8.5, -24.0, -7.5, -23.0, -6.0, -20.5, -4.0, -18.5, -3.5, -17.0, -1.0, -15.0, 0.0, -12.5, 1.5, -10.5, 3.0, -8.5, 4.5, -7.0, 6.0, -4.5, 7.5, -1.5, 6.0, 2.5, 7.0, 1.0, 8.0, 6.0, 1.5,
    -43.0, -40.0, -45.5, -36.0, -42.0, -35.5, -39.0, -40.5, -33.0, -35.0, -41.0, -30.0, -32.0, -28.0, -34.5, -27.5, -33.5, -24.5, -31.5, -22.5, -28.0, -20.5, -29.0, -18.5, -26.0, -16.0, -22.0, -17.0, -20.0, -13.5,
    -19.5, -12.0, -16.0, -11.0, -14.0, -9.8, -13.0, -9.0, -12.5, -6.5, -9.5, -3.5, -8.0, -1.0, -5.5, 1.0, -3.0, -1.0, 3.0, -1.5, 2.0, 1.0, 4.5, -1.0, 5.0, 0.5, 6.0, 3.0, 7.5, 2.5,
]

titles = ["NDVI", "NDVI", "TCAP_B3", "TCAP_B3"]
y_labels = ["TM3732 segment 25 MEAN", "TM3732 segment 15 MEAN",
            "TM3732 segment 25 MEAN", "TM3732 segment 15 MEAN"]
x_label = "TM3732 2009 3x3 MEAN"
pearson_r = ["0.94", "0.96", "0.93", "0.94"]
# fitted regression lines (intercept, slope)
fit_intercept = [0.0255, 0.017, -2.27, -1.8]
fit_slope = [0.918, 0.948, 0.918, 0.935]

ndvi_ticks = [0.1, 0.2, 0.3, 0.4, 0.5, 0.6, 0.7]
ndvi_xticklabels = ["0.1", "0.2", "0.3", "0.4", "0.5", "0.6", "0.7"]
ndvi_yticklabels = ["0.1", "", "0.3", "", "0.5", "", "0.7"]
tcap_ticks = [-60, -40, -20, 0]
tcap_ticklabels = ["-60", "-40", "-20", "0"]

# ---------------- layout ----------------
W, H = 1353, 1203
fig = plt.figure(figsize=(W / 100, H / 100), dpi=100)

def rect(l, r, t, b):
    return [l / W, 1 - b / H, (r - l) / W, (b - t) / H]

boxes = [(190, 636, 118, 499), (765.5, 1211, 118, 499),
         (190.5, 636, 693, 1076), (765.5, 1211, 693, 1076)]
xlims = [(0.0905, 0.751), (0.0905, 0.751), (-71.0, 16.3), (-71.2, 16.4)]
ylims = [(0.092, 0.750), (0.091, 0.750), (-71.3, 16.2), (-71.3, 16.2)]

series = [(ndvi_x, ndvi_seg25), (ndvi_x, ndvi_seg15),
          (tcap_x, tcap_seg25), (tcap_x, tcap_seg15)]

spine_col = '#555555'
txt_col = '#1a1a1a'

for i in range(4):
    l, r, t, b = boxes[i]
    ax = fig.add_axes(rect(l, r, t, b))
    xs, ys = series[i]
    n = min(len(xs), len(ys))
    ax.scatter(xs[:n], ys[:n], s=40, c='#0d0d0d', edgecolors='none', zorder=2)
    ax.set_xlim(*xlims[i])
    ax.set_ylim(*ylims[i])
    lx = np.array(xlims[i])
    ax.plot(lx, fit_intercept[i] + fit_slope[i] * lx, color='#303030', lw=0.9, zorder=3)
    ax.plot(lx, lx, color='#444444', lw=0.8, dashes=(4, 4), zorder=3)

    if i < 2:
        ax.set_xticks(ndvi_ticks)
        ax.set_xticklabels(ndvi_xticklabels)
        ax.set_yticks(ndvi_ticks)
        ax.set_yticklabels(ndvi_yticklabels)
    else:
        ax.set_xticks(tcap_ticks)
        ax.set_xticklabels(tcap_ticklabels)
        ax.set_yticks(tcap_ticks)
        ax.set_yticklabels(tcap_ticklabels)

    for sp in ax.spines.values():
        sp.set_color(spine_col)
        sp.set_linewidth(1.0)
    ax.tick_params(axis='both', direction='out', length=7.5, width=1.0,
                   color=spine_col, labelsize=20, labelcolor=txt_col)
    ax.tick_params(axis='x', pad=7)
    ax.tick_params(axis='y', pad=5, labelrotation=90)
    for lab in ax.get_yticklabels():
        lab.set_verticalalignment('center')

    ax.text(0.623, 0.165, "Pearson's r =" + pearson_r[i], transform=ax.transAxes,
            ha='left', va='center', fontsize=12.5, color='#222222')

    cx = (l + r) / 2
    fig.text(cx / W, 1 - (b + 78) / H, x_label, ha='center', va='center',
             fontsize=12.5, color='#222222')
    fig.text((l - 69) / W, 1 - ((t + b) / 2) / H, y_labels[i], ha='center',
             va='center', rotation=90, fontsize=12.5, color='#222222')
    fig.text(cx / W, 1 - (t - 26) / H, titles[i], ha='center', va='baseline',
             fontsize=31, fontweight='bold', color='#000000')

fig.text(132.5 / W, 1 - 70 / H, "A", ha='center', va='baseline', fontsize=21.5,
         family=['Liberation Serif', 'DejaVu Serif'], color='#111111')

# outer frame (left, top, right)
fig.add_artist(Line2D([7.5 / W, 7.5 / W], [1 - 8.5 / H, 0], color='#6a6a6a', lw=1.6))
fig.add_artist(Line2D([7.5 / W, 1351.5 / W], [1 - 8.5 / H, 1 - 8.5 / H], color='#333333', lw=1.6))
fig.add_artist(Line2D([1351.5 / W, 1351.5 / W], [1 - 8.5 / H, 0], color='#6a6a6a', lw=1.6))

fig.savefig("out.png", dpi=100, facecolor='white')
